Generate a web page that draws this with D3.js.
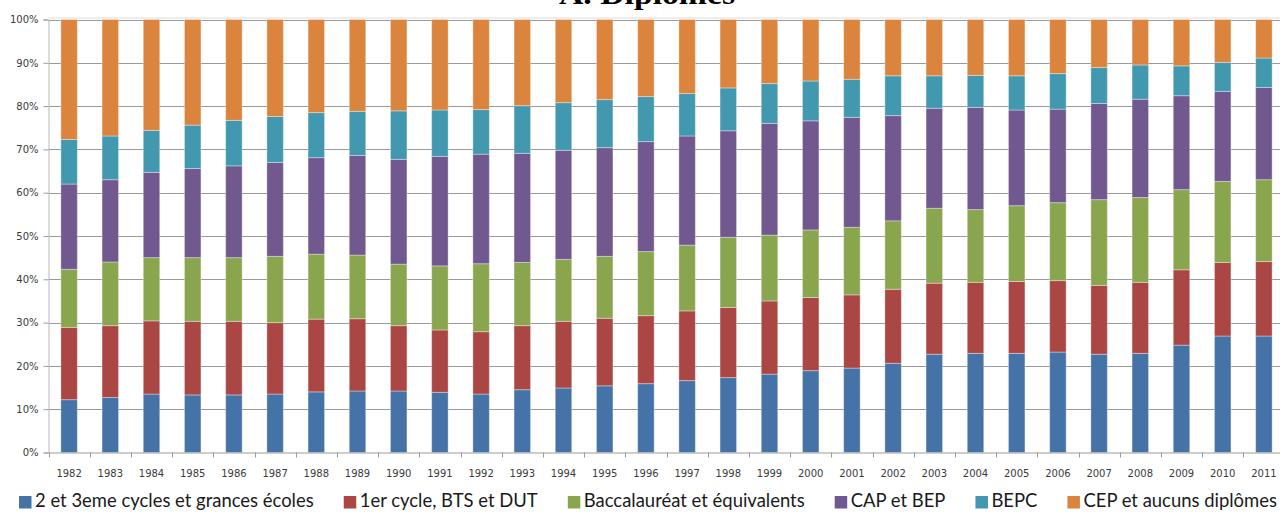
<!DOCTYPE html>
<html>
<head>
<meta charset="utf-8">
<script src="https://cdn.jsdelivr.net/npm/d3@7"></script>
<style>
  body { margin: 0; background: #fff; }
  svg { display: block; }
</style>
</head>
<body>
<div id="root"></div>
<script>
const years = ["1982","1983","1984","1985","1986","1987","1988","1989","1990","1991",
  "1992","1993","1994","1995","1996","1997","1998","1999","2000","2001",
  "2002","2003","2004","2005","2006","2007","2008","2009","2010","2011"];

const seriesNames = ["2 et 3eme cycles et grances écoles", "1er cycle, BTS et DUT",
  "Baccalauréat et équivalents", "CAP et BEP", "BEPC", "CEP et aucuns diplômes"];

// shares in % for each year
const superieur = [12.2,12.7,13.5,13.3,13.3,13.5,14.0,14.2,14.2,13.9,13.5,14.5,14.9,15.4,15.9,16.6,17.3,18.1,18.9,19.5,20.6,22.7,22.9,22.9,23.2,22.7,22.9,24.8,26.9,26.9];
const premierCycle = [16.7,16.6,16.9,17.0,17.0,16.5,16.8,16.7,15.1,14.4,14.4,14.8,15.4,15.6,15.7,16.1,16.2,16.9,16.9,16.9,17.1,16.4,16.4,16.6,16.5,15.9,16.4,17.4,17.0,17.2];
const bac = [13.4,14.7,14.6,14.7,14.7,15.3,15.0,14.7,14.2,14.8,15.7,14.6,14.3,14.3,14.8,15.2,16.2,15.2,15.6,15.6,15.8,17.3,16.8,17.5,18.0,19.8,19.6,18.5,18.7,18.9];
const capBep = [19.7,19.0,19.7,20.6,21.2,21.7,22.3,23.0,24.2,25.3,25.3,25.2,25.2,25.1,25.4,25.2,24.6,25.8,25.2,25.4,24.3,23.1,23.6,22.1,21.6,22.2,22.7,21.7,20.8,21.3];
const bepc = [10.3,10.1,9.7,10.0,10.5,10.6,10.4,10.2,11.2,10.7,10.3,11.0,11.0,11.1,10.4,9.8,9.9,9.2,9.2,8.8,9.2,7.5,7.4,7.9,8.2,8.3,7.9,6.9,6.7,6.8];
const cep = [27.7,26.9,25.6,24.4,23.3,22.4,21.5,21.2,21.1,20.9,20.8,19.9,19.2,18.5,17.8,17.1,15.8,14.8,14.2,13.8,13.0,13.0,12.9,13.0,12.5,11.1,10.5,10.7,9.9,8.9];

const colors = ["#4572a7", "#aa4643", "#89a54e", "#71588f", "#4198af", "#db843d"];
const yTicks = [0,10,20,30,40,50,60,70,80,90,100];

const W = 1280, H = 513;
const margin = {top: 19.5, left: 48.5, bottom: 452.5};

// one table row per year, columns = series
const allSeries = [superieur, premierCycle, bac, capBep, bepc, cep];
const table = years.map((y, i) => {
  const row = {year: y};
  let total = 0;
  allSeries.forEach(s => total += s[i]);
  seriesNames.forEach((n, k) => row[n] = allSeries[k][i] / total);
  return row;
});

const stack = d3.stack().keys(seriesNames);
const layers = stack(table);

const svg = d3.select("#root").append("svg")
  .attr("width", W)
  .attr("height", H);

const step = 41.2;
const x = d3.scaleBand()
  .domain(years)
  .range([margin.left, margin.left + step * years.length])
  .padding(0);

const y = d3.scaleLinear()
  .domain([0, 1])
  .range([margin.bottom, margin.top]);

// title (cut off at the top)
svg.append("text")
  .attr("x", 647)
  .attr("y", 4)
  .attr("text-anchor", "middle")
  .attr("font-family", "Liberation Serif, serif")
  .attr("font-weight", "bold")
  .attr("font-size", 30)
  .attr("textLength", 176)
  .attr("lengthAdjust", "spacingAndGlyphs")
  .text("A. Diplômes");

// plot border line at top
svg.append("line")
  .attr("x1", margin.left).attr("x2", W)
  .attr("y1", margin.top - 1.5).attr("y2", margin.top - 1.5)
  .attr("stroke", "#dcdcdc");

// gridlines
svg.append("g")
  .selectAll("line")
  .data(yTicks.slice(1))
  .enter().append("line")
  .attr("x1", margin.left).attr("x2", W)
  .attr("y1", d => Math.round(y(d / 100)) + 0.5)
  .attr("y2", d => Math.round(y(d / 100)) + 0.5)
  .attr("stroke", "#9a9a9a");

// y axis
const yAxis = d3.axisLeft(y)
  .tickValues(yTicks.map(d => d / 100))
  .tickFormat(d3.format(".0%"))
  .tickSize(5)
  .tickPadding(5);

const gy = svg.append("g")
  .attr("transform", "translate(" + margin.left + ",0)")
  .call(yAxis);
gy.select(".domain").attr("stroke", "#b8b8b8");
gy.selectAll(".tick line").attr("stroke", "#9a9a9a");
gy.selectAll("text")
  .attr("font-family", "DejaVu Sans, sans-serif")
  .attr("font-size", 10)
  .attr("fill", "#3a3a3a");

// bars
const barW = step * 0.4;
svg.append("g")
  .selectAll("g")
  .data(layers)
  .enter().append("g")
  .attr("fill", (d, i) => colors[i])
  .selectAll("rect")
  .data(d => d)
  .enter().append("rect")
  .attr("x", d => x(d.data.year) + (step - barW) / 2)
  .attr("width", barW)
  .attr("y", d => y(d[1]))
  .attr("height", d => y(d[0]) - y(d[1]))
  .attr("stroke", "#ffffff")
  .attr("stroke-opacity", 0.35)
  .attr("stroke-width", 1);

// x axis
const xAxis = d3.axisBottom(x)
  .tickSize(0)
  .tickPadding(17);

const gx = svg.append("g")
  .attr("transform", "translate(0," + margin.bottom + ")")
  .call(xAxis);
gx.select(".domain").attr("stroke", "#9a9a9a");
gx.selectAll("text")
  .attr("font-family", "DejaVu Sans, sans-serif")
  .attr("font-size", 10)
  .attr("fill", "#3a3a3a");

// tick marks between categories
gx.append("g")
  .selectAll("line")
  .data(years.concat(["end"]))
  .enter().append("line")
  .attr("x1", (d, i) => Math.round(margin.left + i * x.step()) + 0.5)
  .attr("x2", (d, i) => Math.round(margin.left + i * x.step()) + 0.5)
  .attr("y1", 0)
  .attr("y2", 5)
  .attr("stroke", "#9a9a9a");

// legend
const legend = svg.append("g")
  .attr("transform", "translate(0,507)");

const items = legend.selectAll(".legend")
  .data(seriesNames)
  .enter().append("g")
  .attr("class", "legend");

items.append("rect")
  .attr("width", 12.5)
  .attr("height", 12.5)
  .attr("y", -11)
  .attr("fill", (d, i) => colors[i]);

const labels = items.append("text")
  .attr("x", 16)
  .attr("font-family", "Lato, sans-serif")
  .attr("font-size", 17)
  .attr("fill", "#1a1a1a")
  .text(d => d);

// fit legend between x=19 and x=1277
const widths = [];
labels.each(function() { widths.push(this.getComputedTextLength()); });
const gap = 30, sq = 16;
const fixed = sq * seriesNames.length + gap * (seriesNames.length - 1);
const k = (1277 - 19 - fixed) / d3.sum(widths);
labels.attr("font-size", 17 * k);
let cx = 19;
items.attr("transform", (d, i) => {
  const t = "translate(" + cx + ",0)";
  cx += sq + widths[i] * k + gap;
  return t;
});
</script>
</body>
</html>
